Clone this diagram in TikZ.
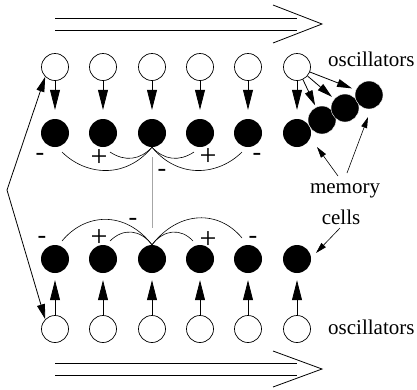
\documentclass[tikz,border=0pt]{standalone}
\usepackage{fontspec}
\setmainfont{Liberation Serif}
\usetikzlibrary{arrows.meta,calc}
\begin{document}
\begin{tikzpicture}[x=1pt,y=-1pt,
  osc/.style={circle,draw,line width=0.7pt,minimum size=27pt,inner sep=0pt},
  cell/.style={circle,fill=black,minimum size=28pt,inner sep=0pt},
  chain/.style={circle,fill=black,draw=white,line width=0.4pt,minimum size=28pt,inner sep=0pt},
  bigarrow/.style={-{Triangle[length=20pt,width=10pt]},line width=0.8pt},
  midarrow/.style={-{Triangle[length=15pt,width=8pt]},line width=0.8pt},
  thinarrow/.style={-{Triangle[length=11pt,width=6pt]},line width=0.6pt},
  lbl/.style={font=\fontsize{21}{25}\selectfont,inner sep=0pt},
  sgn/.style={font=\fontsize{26}{30}\selectfont,inner sep=0pt},
  plus/.style={font=\fontsize{30}{34}\selectfont,inner sep=0pt},
  arcline/.style={line width=0.6pt},
  flow/.style={line width=0.8pt}
]
\useasboundingbox (0,0) rectangle (417,389);

% flow arrows
\draw[flow] (55,18) -- (297,18);
\draw[flow] (55,30) -- (297,30);
\draw[flow] (273,5) -- (322,24) -- (273,43);
\draw[flow] (55,363) -- (297,363);
\draw[flow] (55,375) -- (297,375);
\draw[flow] (273,351) -- (322,369) -- (273,387);

% rows
\foreach \i/\x in {1/55,2/103,3/152,4/200,5/248,6/297} {
  \node[osc] (o\i) at (\x,67) {};
  \node[cell] (m\i) at (\x,133) {};
  \node[cell] (n\i) at (\x,259) {};
  \node[osc] (p\i) at (\x,329) {};
  \draw[bigarrow,shorten >=9pt] (o\i) -- (m\i);
  \draw[bigarrow,shorten >=7pt] (p\i) -- (n\i);
}

% chain of memory cells
\node[chain] (c2) at (322,120) {};
\node[chain] (c3) at (345,108) {};
\node[chain] (c4) at (369,95) {};
\draw[midarrow,shorten >=2pt] (o6) -- (c2);
\draw[midarrow,shorten >=3pt] (o6) -- (c3);
\draw[midarrow,shorten >=4pt] (o6) -- (c4);

% arcs top
\coordinate (ta1) at (62,152);
\coordinate (ta2) at (110,152);
\coordinate (ta4) at (194,152);
\coordinate (ta5) at (242,152);
\draw[arcline] (m3.south) .. controls (125,180) and (85,175) .. (ta1);
\draw[arcline] (m3.south) .. controls (140,160) and (125,162) .. (ta2);
\draw[arcline] (m3.south) .. controls (164,160) and (179,162) .. (ta4);
\draw[arcline] (m3.south) .. controls (179,180) and (219,175) .. (ta5);

% arcs bottom
\coordinate (ba1) at (62,241);
\coordinate (ba2) at (110,241);
\coordinate (ba4) at (193,241);
\coordinate (ba5) at (242,238);
\draw[arcline] (n3.north) .. controls (125,210) and (85,213) .. (ba1);
\draw[arcline] (n3.north) .. controls (140,229) and (123,228) .. (ba2);
\draw[arcline] (n3.north) .. controls (164,229) and (181,228) .. (ba4);
\draw[arcline] (n3.north) .. controls (179,210) and (219,210) .. (ba5);

% vertical link
\draw[gray!70,line width=0.8pt,shorten <=10pt,shorten >=17pt] (m3) -- (n3);

% signs
\node[sgn] (s1) at (40,157) {-};
\node[plus] (s2) at (99,158) {+};
\node[plus] (s3) at (208,157) {+};
\node[sgn] (s4) at (257,157) {-};
\node[sgn] (s5) at (162,173) {-};
\node[sgn] (s6) at (42,240) {-};
\node[plus] (s7) at (99,238) {+};
\node[sgn] (s8) at (133,222) {-};
\node[plus] (s9) at (208,240) {+};
\node[sgn] (s10) at (253,240) {-};

% left double arrow
\coordinate (v) at (7,190);
\draw[line width=0.8pt,{Triangle[length=15pt,width=8pt]}-{Triangle[length=15pt,width=8pt]}] (o1.225) -- (v) -- (p1.135);

% labels
\node[lbl,anchor=base west] (ot) at (328,66) {oscillators};
\node[lbl,anchor=base west] (ob) at (328,334) {oscillators};
\node[lbl,anchor=base] (mem) at (345,193) {memory};
\node[lbl,anchor=base] (cel) at (341,224) {cells};

\coordinate (ma1) at (338,176);
\coordinate (mt1) at (317,147);
\coordinate (ma2) at (347,173);
\coordinate (mt2) at (368,117);
\coordinate (ca1) at (340,228);
\coordinate (ct1) at (316,253);
\draw[thinarrow] (ma1) -- (mt1);
\draw[thinarrow] (ma2) -- (mt2);
\draw[thinarrow] (ca1) -- (ct1);
\end{tikzpicture}
\end{document}
